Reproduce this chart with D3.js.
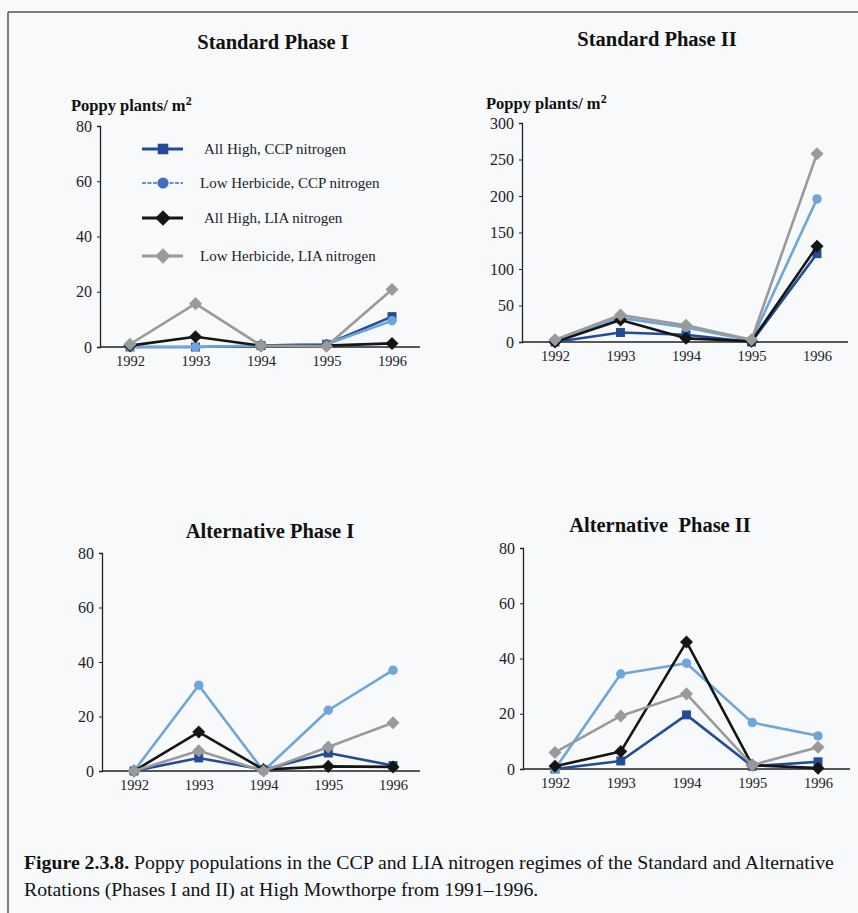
<!DOCTYPE html>
<html>
<head>
<meta charset="utf-8">
<script src="https://cdn.jsdelivr.net/npm/d3@7"></script>
<style>
  body { margin: 0; background: #f8f9fb; }
  svg { display: block; font-family: 'Liberation Serif', 'Times New Roman', serif; }
</style>
</head>
<body>
<div id="chart"></div>
<script>
// years on the x axis
const years = ['1992', '1993', '1994', '1995', '1996'];

// series order: All High CCP, Low Herbicide CCP, All High LIA, Low Herbicide LIA
const seriesNames = ['All High, CCP nitrogen', 'Low Herbicide, CCP nitrogen', 'All High, LIA nitrogen', 'Low Herbicide, LIA nitrogen'];

// poppy plants per m2
const stdPhase1 = [
  [0, 0, 0.5, 1, 11],
  [0, 0, 0.5, 1, 9.5],
  [0.5, 3.7, 0.5, 0.5, 1.3],
  [1, 15.7, 0.5, 0.3, 20.8]
];
const stdPhase2 = [
  [0, 13, 10, 0, 121],
  [2, 33, 20, 2, 196],
  [0, 30, 5, 1, 131],
  [3, 37, 23, 3, 258]
];
const altPhase1 = [
  [0, 4.8, 0.5, 6.6, 2],
  [0, 31.5, 0, 22.3, 37],
  [0, 14.3, 0.5, 1.7, 1.5],
  [0, 7.4, 0, 8.8, 17.7]
];
const altPhase2 = [
  [0, 2.9, 19.6, 1, 2.6],
  [0, 34.4, 38.3, 16.8, 12],
  [1, 6.3, 46, 1.4, 0.3],
  [6, 19.2, 27.2, 1.4, 7.9]
];

const stdTicks1 = [0, 20, 40, 60, 80];
const stdTicks2 = [0, 50, 100, 150, 200, 250, 300];
const altTicks = [0, 20, 40, 60, 80];

// square-ish diamond like the Excel marker
const diamond = {
  draw: function(ctx, size) {
    const r = Math.sqrt(size / 2);
    ctx.moveTo(0, -r); ctx.lineTo(r, 0); ctx.lineTo(0, r); ctx.lineTo(-r, 0); ctx.closePath();
  }
};

const colors = ['#244b98', '#6fa5da', '#151515', '#9a9a9a'];
const shapes = [d3.symbolSquare, d3.symbolCircle, diamond, diamond];
const sizes = [80, 70, 85, 85];

const width = 858, height = 913;
const svg = d3.select('#chart').append('svg').attr('width', width).attr('height', height);

// frame lines of the page scan
svg.append('line').attr('x1', 8).attr('x2', width).attr('y1', 12).attr('y2', 12)
  .attr('stroke', '#555').attr('stroke-width', 1.5);
svg.append('line').attr('x1', 8).attr('x2', 8).attr('y1', 12).attr('y2', height)
  .attr('stroke', '#555').attr('stroke-width', 1.5);

// one panel per phase
const panels = [
  {title: 'Standard Phase I', tx: 273, ty: 49, data: stdPhase1, ticks: stdTicks1, max: 80,
   axisX: 100, axisEnd: 420, first: 130, last: 392, top: 126, bottom: 347, ylab: [71, 111]},
  {title: 'Standard Phase II', tx: 657, ty: 46, data: stdPhase2, ticks: stdTicks2, max: 300,
   axisX: 522, axisEnd: 848, first: 555, last: 817, top: 123, bottom: 342, ylab: [486, 109]},
  {title: 'Alternative Phase I', tx: 270, ty: 538, data: altPhase1, ticks: altTicks, max: 80,
   axisX: 102, axisEnd: 420, first: 134, last: 393, top: 553, bottom: 771},
  {title: 'Alternative  Phase II', tx: 660, ty: 532, data: altPhase2, ticks: altTicks, max: 80,
   axisX: 523, axisEnd: 850, first: 555, last: 818, top: 548, bottom: 769}
];

panels.forEach(function(p) {
  const g = svg.append('g');

  const x = d3.scalePoint().domain(years).range([p.first, p.last]);
  const y = d3.scaleLinear().domain([0, p.max]).range([p.bottom, p.top]);

  g.append('text')
    .attr('x', p.tx).attr('y', p.ty)
    .attr('text-anchor', 'middle')
    .attr('font-size', 20.5).attr('font-weight', 'bold')
    .attr('fill', '#111')
    .style('white-space', 'pre')
    .text(p.title);

  if (p.ylab) {
    const t = g.append('text')
      .attr('x', p.ylab[0]).attr('y', p.ylab[1])
      .attr('font-size', 16.5).attr('font-weight', 'bold').attr('fill', '#111');
    t.append('tspan').text('Poppy plants/ m');
    t.append('tspan').attr('dy', -6).attr('font-size', 12).text('2');
  }

  // y axis
  const yAxis = g.append('g')
    .attr('transform', 'translate(' + p.axisX + ',0)')
    .call(d3.axisLeft(y).tickValues(p.ticks).tickSize(3).tickPadding(5));
  yAxis.select('.domain').attr('stroke', '#222').attr('stroke-width', 1.3);
  yAxis.selectAll('.tick line').attr('stroke', '#222');
  yAxis.selectAll('.tick text')
    .attr('font-family', 'Liberation Serif, serif').attr('font-size', 16).attr('fill', '#222');

  // x axis
  const xAxis = g.append('g')
    .attr('transform', 'translate(0,' + p.bottom + ')')
    .call(d3.axisBottom(x).tickSize(0).tickPadding(9));
  xAxis.select('.domain').attr('d', 'M' + p.axisX + ',0H' + p.axisEnd)
    .attr('stroke', '#222').attr('stroke-width', 1.3);
  xAxis.selectAll('.tick text')
    .attr('font-family', 'Liberation Serif, serif').attr('font-size', 14.5).attr('fill', '#222');

  const line = d3.line().x(function(d, i) { return x(years[i]); }).y(function(d) { return y(d); });

  p.data.forEach(function(vals, s) {
    g.append('path')
      .attr('d', line(vals))
      .attr('fill', 'none')
      .attr('stroke', colors[s])
      .attr('stroke-width', 2.6)
      .attr('stroke-linejoin', 'round');

    g.selectAll('.m' + s)
      .data(vals)
      .enter().append('path')
      .attr('transform', function(d, i) { return 'translate(' + x(years[i]) + ',' + y(d) + ')'; })
      .attr('d', d3.symbol().type(shapes[s]).size(sizes[s]))
      .attr('fill', colors[s]);
  });
});

// legend in the first panel
const legend = svg.append('g')
  .selectAll('g')
  .data(seriesNames)
  .enter().append('g')
  .attr('transform', function(d, i) { return 'translate(0,' + [149, 183, 218, 256][i] + ')'; });

legend.append('line')
  .attr('x1', 142).attr('x2', 183)
  .attr('stroke', function(d, i) { return i == 1 ? '#3d6ec0' : colors[i]; })
  .attr('stroke-width', function(d, i) { return i == 1 ? 1.6 : 2.8; })
  .attr('stroke-dasharray', function(d, i) { return i == 1 ? '4,1.5' : null; });

legend.append('path')
  .attr('transform', 'translate(163,0)')
  .attr('d', function(d, i) { return d3.symbol().type(shapes[i]).size(sizes[i] * 1.4)(); })
  .attr('fill', function(d, i) { return i == 1 ? '#3d6ec0' : colors[i]; });

legend.append('text')
  .attr('x', function(d, i) { return i % 2 == 0 ? 204 : 200; })
  .attr('y', 5)
  .attr('font-size', 15)
  .attr('fill', '#222')
  .text(function(d) { return d; });

// caption
const cap = svg.append('text').attr('x', 24).attr('y', 869).attr('font-size', 19.8).attr('fill', '#111');
cap.append('tspan').attr('font-weight', 'bold').text('Figure 2.3.8.');
cap.append('tspan').text(' Poppy populations in the CCP and LIA nitrogen regimes of the Standard and Alternative');
svg.append('text').attr('x', 24).attr('y', 896).attr('font-size', 19.8).attr('fill', '#111')
  .text('Rotations (Phases I and II) at High Mowthorpe from 1991\u20131996.');
</script>
</body>
</html>
